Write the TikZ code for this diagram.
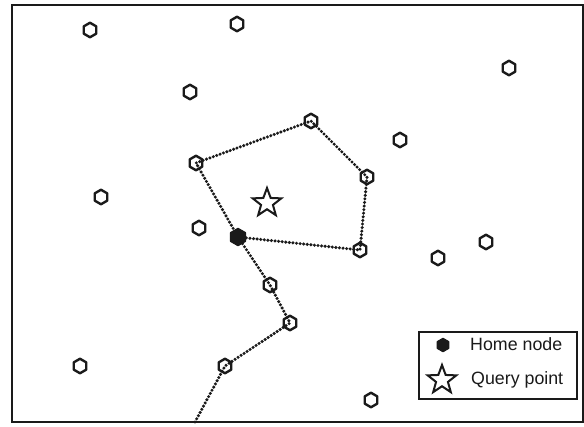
\documentclass[tikz,border=0pt]{standalone}
\usepackage{fontspec}
\setmainfont{Liberation Sans}
\usetikzlibrary{shapes.geometric}
\definecolor{ink}{HTML}{1A1A1A}
\tikzset{
  hexnode/.style={regular polygon, regular polygon sides=6, shape border rotate=30,
    minimum size=14.5pt, inner sep=0pt, draw=ink, line width=2.4pt, line join=round},
  homenode/.style={regular polygon, regular polygon sides=6, shape border rotate=30,
    minimum size=17pt, inner sep=0pt, draw=ink, fill=ink, line width=1.5pt, line join=round},
  starnode/.style={star, star points=5, star point ratio=2.4, minimum size=30pt,
    inner sep=0pt, draw=ink, line width=2pt},
  route/.style={draw=ink, line width=3.4pt, line cap=round, dash pattern=on 0pt off 3.6pt},
  frame/.style={draw=ink, line width=2pt},
  legtext/.style={font=\fontsize{17.8}{20}\selectfont, anchor=west, inner sep=0pt, text=ink}
}
\begin{document}
\begin{tikzpicture}[x=1pt,y=-1pt]
\useasboundingbox (0,0) rectangle (584,426);
\fill[white] (0,0) rectangle (584,426);
\draw[frame] (12,5) rectangle (583,422);

% isolated nodes
\node[hexnode] (n1) at (90,30) {};
\node[hexnode] (n2) at (237,24) {};
\node[hexnode] (n3) at (509,68) {};
\node[hexnode] (n4) at (190,92) {};
\node[hexnode] (n5) at (400,140) {};
\node[hexnode] (n6) at (101,197) {};
\node[hexnode] (n7) at (199,228) {};
\node[hexnode] (n8) at (486,242) {};
\node[hexnode] (n9) at (438,258) {};
\node[hexnode] (n10) at (80,366) {};
\node[hexnode] (n11) at (371,400) {};

% route nodes
\node[hexnode] (a) at (196,163) {};
\node[hexnode] (b) at (311,121) {};
\node[hexnode] (c) at (367,177) {};
\node[hexnode] (d) at (360,250) {};
\node[hexnode] (e) at (270,285) {};
\node[hexnode] (f) at (290,323) {};
\node[hexnode] (g) at (225,366) {};
\node[homenode] (home) at (238,237) {};
\coordinate (start) at (195,422);

\draw[route] (start) -- (g.center) -- (f.center) -- (e.center) -- (home.center)
  -- (a.center) -- (b.center) -- (c.center) -- (d.center) -- (home.center);

\node[starnode] (query) at (267,203) {};

% legend
\node[draw=ink, line width=2pt, minimum width=158pt, minimum height=67pt, inner sep=0pt,
  anchor=north west] (legend) at (418,331) {};
\node[homenode, minimum size=13pt] (lhome) at (443,345) {};
\node[starnode] (lstar) at (442,380) {};
\node[legtext] (lhometext) at (470,344) {Home node};
\node[legtext] (lstartext) at (471,380) {Query point};
\end{tikzpicture}
\end{document}
